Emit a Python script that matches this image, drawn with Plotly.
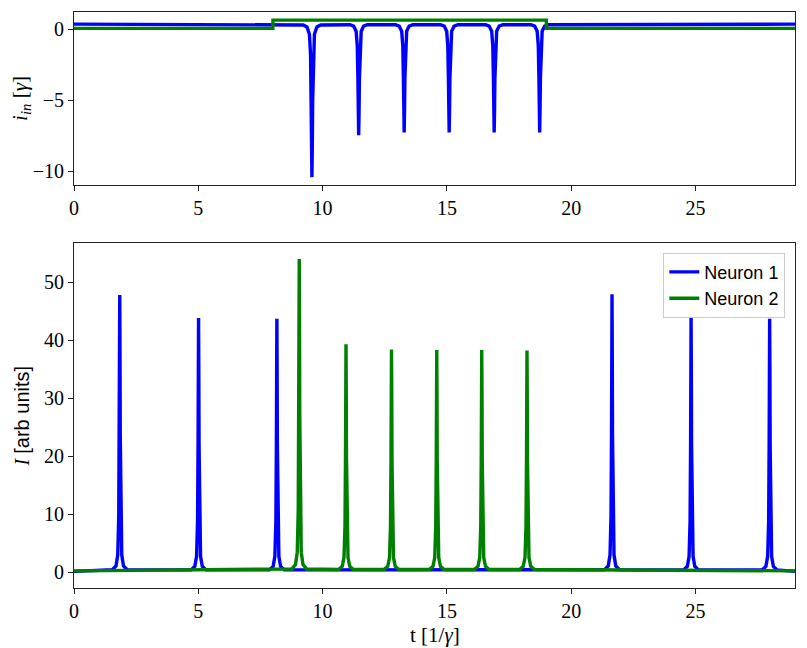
import plotly.graph_objects as go
from plotly.subplots import make_subplots

# ---------------- data ----------------
t_start = 0.0
t_end = 29.0

# bottom panel: spike times and peak heights
n1_spike_t = [1.84, 5.01, 8.16, 21.64, 24.82, 27.98]
n1_spike_h = [47.8, 43.8, 43.7, 47.9, 43.8, 43.7]
n2_spike_t = [9.06, 10.94, 12.77, 14.59, 16.40, 18.22]
n2_spike_h = [54.0, 39.3, 38.4, 38.3, 38.3, 38.2]
n1_base = 0.1
n2_base = 0.2

# spike profile (offset in t, fraction of peak) read from the shape
spike_off = [-0.30, -0.15, -0.08, -0.04, -0.02, -0.01, 0.0, 0.01, 0.02, 0.04, 0.08, 0.15, 0.30]
spike_frac = [0.006, 0.02, 0.06, 0.2, 0.5, 0.8, 1.0, 0.8, 0.5, 0.2, 0.06, 0.02, 0.006]

# top panel: input currents
iin1_base = 0.35
dip_t = [9.57, 11.45, 13.28, 15.09, 16.90, 18.73]
dip_v = [-10.4, -7.45, -7.27, -7.27, -7.27, -7.27]
dip_off = [-0.35, -0.20, -0.10, -0.055, -0.03, -0.015, 0.0, 0.015, 0.03, 0.055, 0.10, 0.20, 0.35]
dip_frac = [0.006, 0.018, 0.066, 0.2, 0.5, 0.8, 1.0, 0.8, 0.5, 0.2, 0.066, 0.018, 0.006]

iin2_t = [0.0, 8.0, 8.0, 19.0, 19.0, 29.0]
iin2_v = [0.05, 0.05, 0.63, 0.63, 0.05, 0.05]

x_ticks = [0, 5, 10, 15, 20, 25]
y_top_ticks = [-10, -5, 0]
y_bot_ticks = [0, 10, 20, 30, 40, 50]

BLUE = "#0000ff"
GREEN = "#008000"


def build_trace(times, peaks, base, offs, fracs):
    xs, ys = [t_start], [base]
    for t0, h in zip(times, peaks):
        for o, f in zip(offs, fracs):
            xs.append(t0 + o)
            ys.append(base + (h - base) * f)
    xs.append(t_end)
    ys.append(base)
    return xs, ys


n1_x, n1_y = build_trace(n1_spike_t, n1_spike_h, n1_base, spike_off, spike_frac)
n2_x, n2_y = build_trace(n2_spike_t, n2_spike_h, n2_base, spike_off, spike_frac)
i1_x, i1_y = build_trace(dip_t, dip_v, iin1_base, dip_off, dip_frac)

fig = make_subplots(rows=2, cols=1)

LW = 3.4
fig.add_trace(go.Scatter(x=i1_x, y=i1_y, mode="lines", line=dict(color=BLUE, width=LW),
                         showlegend=False), row=1, col=1)
fig.add_trace(go.Scatter(x=iin2_t, y=iin2_v, mode="lines", line=dict(color=GREEN, width=LW),
                         showlegend=False), row=1, col=1)
fig.add_trace(go.Scatter(x=n1_x, y=n1_y, mode="lines", name="Neuron 1",
                         line=dict(color=BLUE, width=LW)), row=2, col=1)
fig.add_trace(go.Scatter(x=n2_x, y=n2_y, mode="lines", name="Neuron 2",
                         line=dict(color=GREEN, width=LW)), row=2, col=1)

SERIF = "Liberation Serif"
axis_common = dict(showline=True, mirror=True, linecolor="#222222", linewidth=1,
                   ticks="outside", ticklen=5, tickcolor="#222222", showgrid=False,
                   zeroline=False, automargin=False,
                   tickfont=dict(family=SERIF, size=20, color="black"))

fig.update_xaxes(range=[0, 29], tickvals=x_ticks, **axis_common)
fig.update_xaxes(domain=[0, 1], row=1, col=1)
fig.update_xaxes(domain=[0, 1], row=2, col=1)
fig.update_yaxes(**axis_common)
fig.update_yaxes(row=1, col=1, domain=[0.6997, 1.0], range=[-10.95, 1.2], tickvals=y_top_ticks,
                 title=dict(text="<i>i</i><sub><i>in</i></sub> [<i>γ</i>]",
                            font=dict(family=SERIF, size=21, color="black"), standoff=8))
fig.update_yaxes(row=2, col=1, domain=[0.0, 0.5984], range=[-2.76, 56.7], tickvals=y_bot_ticks,
                 title=dict(text="<i>I</i> <span style='font-family:Liberation Sans'>[arb units]</span>",
                            font=dict(family=SERIF, size=20, color="black"), standoff=8))

# x-axis title of the lower panel, placed below the tick labels
fig.add_annotation(text="t [1/<i>γ</i>]", xref="paper", yref="paper", x=0.5, y=-0.081,
                   xanchor="center", yanchor="middle", showarrow=False,
                   font=dict(family=SERIF, size=21, color="black"))

# the page body adds an 8px offset, so the figure is shifted by that amount
fig.update_layout(
    width=799, height=640,
    margin=dict(l=66, r=12, t=4, b=60),
    paper_bgcolor="white", plot_bgcolor="white",
    legend=dict(x=0.9866, y=0.5821, xanchor="right", yanchor="top",
                bgcolor="rgba(255,255,255,0.8)", bordercolor="#cccccc", borderwidth=1,
                font=dict(family="Liberation Sans", size=18, color="black")),
)

fig.write_html("out.html")
